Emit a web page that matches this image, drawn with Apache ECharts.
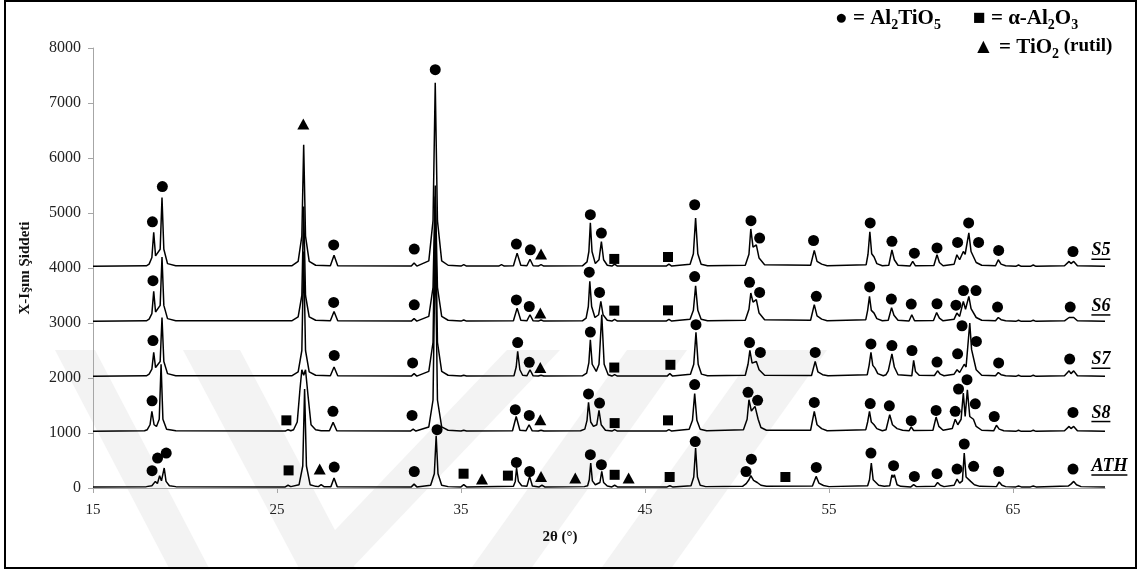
<!DOCTYPE html>
<html><head><meta charset="utf-8">
<script src="https://cdn.jsdelivr.net/npm/echarts@6/dist/echarts.min.js"></script>
<style>html,body{margin:0;padding:0;background:#fff}#c{width:1140px;height:570px}</style>
</head><body><div id="c"></div>
<script>
// ---------- data (2θ in degrees, intensity in counts) ----------
const xTicks = [15, 25, 35, 45, 55, 65];
const seriesNames = ['S5', 'S6', 'S7', 'S8', 'ATH'];
const seriesLabelX = 69.26;
const seriesLabelY = [4314, 3301, 2332, 1363, 393];

const S5 = [[15,4030],[17.9,4040],[18.05,4070],[18.2,4190],[18.3,4650],[18.4,4220],[18.5,4190],[18.65,4340],[18.75,5280],[18.85,4340],[19.05,4080],[19.5,4040],[25.8,4040],[26.15,4120],[26.35,4580],[26.45,6240],[26.55,4580],[26.75,4120],[27.1,4050],[27.9,4040],[28.1,4230],[28.3,4040],[32.3,4035],[32.45,4090],[32.6,4035],[33.25,4130],[33.48,4860],[33.6,7370],[33.72,4860],[33.95,4130],[34.3,4050],[35.0,4035],[35.15,4060],[35.3,4035],[37.05,4035],[37.2,4060],[37.35,4035],[37.85,4040],[38.05,4270],[38.25,4050],[38.58,4040],[38.75,4160],[38.92,4040],[39.2,4035],[39.35,4060],[39.5,4035],[41.6,4040],[41.85,4110],[41.95,4300],[42.03,4820],[42.12,4300],[42.3,4080],[42.5,4150],[42.63,4480],[42.75,4150],[42.95,4050],[43.2,4035],[43.35,4070],[43.5,4035],[46.15,4035],[46.3,4070],[46.45,4035],[47.45,4070],[47.63,4260],[47.75,4910],[47.87,4260],[48.05,4070],[48.4,4040],[50.45,4050],[50.65,4250],[50.75,4710],[50.87,4380],[51.05,4420],[51.2,4180],[51.5,4060],[54.0,4050],[54.2,4320],[54.35,4120],[54.6,4070],[54.9,4040],[57.02,4060],[57.12,4250],[57.22,4660],[57.32,4260],[57.45,4200],[57.6,4080],[57.9,4040],[58.25,4050],[58.42,4330],[58.55,4150],[58.75,4050],[59.4,4035],[59.55,4120],[59.7,4040],[60.7,4045],[60.87,4240],[61.0,4100],[61.2,4040],[61.8,4070],[61.95,4240],[62.1,4150],[62.3,4300],[62.4,4250],[62.6,4640],[62.72,4300],[62.82,4280],[63.0,4100],[63.3,4050],[64.05,4040],[64.2,4150],[64.35,4070],[64.6,4040],[65.15,4030],[65.3,4055],[65.45,4030],[65.95,4030],[66.1,4055],[66.25,4030],[67.8,4040],[68.05,4120],[68.15,4080],[68.3,4120],[68.5,4040],[70,4030]];

const S6 = [[15,3030],[17.9,3040],[18.05,3070],[18.2,3170],[18.3,3575],[18.4,3200],[18.5,3180],[18.65,3320],[18.75,4200],[18.85,3320],[19.05,3080],[19.5,3040],[25.8,3040],[26.15,3110],[26.35,3500],[26.45,5120],[26.55,3500],[26.75,3110],[27.1,3050],[27.9,3040],[28.1,3210],[28.3,3040],[32.3,3035],[32.45,3080],[32.6,3035],[33.25,3120],[33.48,3650],[33.6,5500],[33.72,3650],[33.95,3120],[34.3,3050],[35.0,3035],[35.15,3055],[35.3,3035],[37.85,3040],[38.05,3270],[38.25,3050],[38.58,3040],[38.75,3150],[38.92,3040],[39.2,3035],[39.35,3055],[39.5,3035],[41.6,3040],[41.8,3090],[41.92,3300],[42.0,3757],[42.1,3300],[42.28,3100],[42.48,3150],[42.6,3393],[42.72,3150],[42.95,3050],[43.2,3035],[43.35,3065],[43.5,3035],[46.15,3035],[46.3,3065],[46.45,3035],[47.45,3070],[47.63,3230],[47.75,3678],[47.87,3230],[48.05,3070],[48.4,3040],[50.45,3050],[50.65,3250],[50.75,3545],[50.87,3380],[51.05,3424],[51.2,3180],[51.5,3060],[54.0,3050],[54.2,3333],[54.35,3130],[54.6,3070],[54.9,3040],[57.0,3060],[57.1,3230],[57.2,3485],[57.3,3230],[57.45,3180],[57.6,3080],[57.9,3040],[58.22,3050],[58.4,3280],[58.53,3140],[58.75,3050],[59.35,3035],[59.5,3150],[59.65,3040],[60.68,3045],[60.85,3190],[61.0,3090],[61.2,3040],[61.8,3070],[61.95,3180],[62.1,3120],[62.3,3393],[62.42,3250],[62.6,3485],[62.72,3260],[62.82,3230],[63.0,3100],[63.3,3050],[64.05,3040],[64.2,3100],[64.35,3060],[64.6,3040],[65.15,3030],[65.3,3050],[65.45,3030],[65.95,3030],[66.1,3050],[66.25,3030],[67.8,3040],[68.05,3100],[68.15,3070],[68.3,3100],[68.5,3040],[70,3030]];

const S7 = [[15,2030],[17.9,2040],[18.05,2070],[18.2,2160],[18.3,2466],[18.4,2190],[18.5,2170],[18.65,2300],[18.75,3100],[18.85,2300],[19.05,2080],[19.5,2040],[25.8,2040],[26.15,2110],[26.35,2500],[26.45,4300],[26.55,2500],[26.75,2110],[27.1,2050],[27.9,2040],[28.1,2200],[28.3,2040],[32.3,2035],[32.45,2080],[32.6,2035],[33.25,2120],[33.48,2650],[33.6,5300],[33.72,2650],[33.95,2120],[34.3,2050],[35.0,2035],[35.15,2050],[35.3,2035],[37.88,2040],[38.0,2200],[38.08,2484],[38.2,2150],[38.35,2050],[38.58,2040],[38.75,2150],[38.92,2040],[39.2,2035],[39.35,2050],[39.5,2035],[41.6,2040],[41.83,2090],[41.95,2280],[42.03,2696],[42.13,2250],[42.35,2120],[42.5,2250],[42.65,3150],[42.78,2250],[43.0,2060],[43.2,2035],[43.35,2060],[43.5,2035],[46.2,2035],[46.35,2080],[46.5,2035],[47.47,2070],[47.65,2250],[47.77,2830],[47.89,2250],[48.07,2070],[48.4,2040],[50.45,2050],[50.6,2250],[50.7,2502],[50.82,2270],[51.05,2300],[51.2,2150],[51.5,2050],[54.05,2045],[54.25,2302],[54.4,2110],[54.65,2060],[54.95,2040],[57.08,2060],[57.18,2230],[57.28,2466],[57.38,2230],[57.5,2180],[57.65,2080],[57.95,2040],[58.1,2060],[58.22,2130],[58.3,2120],[58.42,2440],[58.55,2200],[58.75,2060],[59.5,2040],[59.6,2320],[59.7,2120],[59.9,2050],[60.73,2045],[60.9,2130],[61.05,2070],[61.25,2040],[61.8,2070],[61.96,2150],[62.1,2100],[62.35,2250],[62.45,2200],[62.65,3000],[62.75,2515],[62.83,2515],[63.0,2150],[63.3,2050],[64.05,2040],[64.2,2100],[64.35,2060],[64.6,2040],[65.15,2030],[65.3,2050],[65.45,2030],[65.95,2030],[66.1,2050],[66.25,2030],[67.8,2040],[68.05,2130],[68.15,2080],[68.3,2130],[68.5,2040],[70,2030]];

const S8 = [[15,1030],[17.8,1040],[17.95,1060],[18.1,1150],[18.2,1393],[18.32,1150],[18.45,1120],[18.6,1250],[18.7,2250],[18.8,1250],[19.0,1070],[19.5,1040],[25.45,1035],[25.6,1060],[25.75,1040],[25.9,1060],[26.1,1200],[26.25,1800],[26.35,2150],[26.45,2050],[26.55,2150],[26.68,1700],[26.85,1150],[27.1,1060],[27.4,1040],[27.85,1040],[28.05,1193],[28.25,1040],[32.25,1035],[32.4,1070],[32.55,1035],[33.25,1110],[33.48,1600],[33.6,4500],[33.72,1600],[33.95,1110],[34.3,1050],[35.0,1035],[35.15,1050],[35.3,1035],[37.8,1040],[38.0,1300],[38.2,1050],[38.53,1040],[38.7,1150],[38.87,1040],[39.2,1035],[39.35,1050],[39.5,1035],[41.5,1040],[41.73,1070],[41.85,1230],[41.93,1557],[42.05,1200],[42.2,1120],[42.38,1150],[42.5,1412],[42.62,1150],[42.85,1050],[43.2,1035],[43.35,1060],[43.5,1035],[46.15,1035],[46.3,1060],[46.45,1035],[47.4,1070],[47.58,1230],[47.7,1715],[47.82,1230],[48.0,1070],[48.35,1040],[50.35,1060],[50.55,1250],[50.65,1605],[50.78,1400],[50.98,1484],[51.15,1250],[51.3,1100],[51.6,1050],[54.0,1050],[54.2,1393],[54.35,1150],[54.6,1080],[54.9,1040],[57.0,1060],[57.1,1200],[57.2,1393],[57.3,1200],[57.45,1150],[57.6,1080],[57.9,1040],[58.1,1060],[58.3,1333],[58.45,1150],[58.7,1080],[59.0,1050],[59.35,1040],[59.47,1110],[59.6,1045],[60.65,1050],[60.82,1290],[60.97,1120],[61.2,1050],[61.7,1080],[61.86,1250],[62.0,1150],[62.18,1250],[62.3,1727],[62.4,1300],[62.52,1787],[62.65,1300],[62.85,1250],[63.0,1120],[63.3,1050],[63.95,1040],[64.1,1140],[64.25,1070],[64.5,1040],[65.15,1030],[65.3,1050],[65.45,1030],[65.95,1030],[66.1,1050],[66.25,1030],[67.8,1040],[68.05,1120],[68.15,1080],[68.3,1120],[68.5,1040],[70,1030]];

const ATH = [[15,20],[17.9,25],[18.2,40],[18.39,120],[18.5,80],[18.62,224],[18.72,130],[18.87,364],[18.97,120],[19.15,40],[19.5,25],[25.45,20],[25.6,50],[25.75,25],[26.2,60],[26.4,400],[26.5,1800],[26.6,400],[26.8,60],[27.1,30],[27.25,25],[27.4,60],[27.55,25],[27.93,25],[28.1,180],[28.27,25],[32.3,20],[32.45,70],[32.6,20],[33.35,50],[33.55,260],[33.65,950],[33.75,260],[33.95,50],[34.3,25],[35.0,20],[35.15,60],[35.3,20],[37.85,30],[37.95,120],[38.02,364],[38.12,120],[38.3,40],[38.58,30],[38.73,211],[38.88,35],[39.25,20],[39.4,50],[39.55,20],[41.7,25],[41.88,40],[41.97,150],[42.05,455],[42.14,130],[42.3,60],[42.55,100],[42.65,302],[42.75,100],[42.95,35],[43.2,20],[43.35,50],[43.5,20],[46.2,20],[46.35,40],[46.5,20],[47.5,40],[47.65,200],[47.75,727],[47.85,200],[48.0,50],[48.3,25],[50.3,30],[50.5,80],[50.65,150],[50.75,224],[50.9,140],[51.1,100],[51.3,50],[51.6,30],[54.1,35],[54.3,211],[54.45,90],[54.7,45],[55.0,25],[57.1,40],[57.2,150],[57.3,455],[57.4,150],[57.55,100],[57.7,50],[58.0,30],[58.3,40],[58.42,240],[58.48,190],[58.55,240],[58.7,60],[58.9,30],[59.45,20],[59.6,60],[59.75,25],[60.75,30],[60.9,100],[61.05,50],[61.25,25],[61.8,50],[61.96,160],[62.1,90],[62.25,130],[62.35,636],[62.45,200],[62.55,200],[62.7,120],[62.9,60],[63.2,30],[64.1,25],[64.25,110],[64.4,50],[64.6,25],[65.15,20],[65.3,35],[65.45,20],[65.95,20],[66.1,35],[66.25,20],[68.0,35],[68.15,70],[68.3,120],[68.45,60],[68.7,25],[70,20]];

// phase markers (2θ, intensity where the symbol sits)
const markAl2TiO5 = [
  [18.23,4840],[18.77,5480],[28.08,4420],[32.46,4345],[33.60,7605],[38.01,4435],[38.77,4330],[42.03,4970],[42.63,4635],[47.70,5150],[50.76,4860],[51.23,4545],[54.16,4500],[57.24,4820],[58.42,4485],[59.64,4270],[60.87,4365],[61.99,4465],[62.59,4820],[63.13,4465],[64.22,4320],[68.26,4300],
  [18.26,3770],[28.08,3375],[32.46,3330],[38.01,3420],[38.71,3300],[41.97,3925],[42.53,3555],[47.70,3845],[50.68,3740],[51.23,3555],[54.31,3485],[57.21,3655],[58.39,3435],[59.47,3345],[60.87,3350],[61.90,3325],[62.31,3590],[62.99,3590],[64.16,3290],[68.11,3290],
  [18.26,2680],[28.11,2410],[32.37,2275],[38.08,2645],[38.71,2285],[42.03,2835],[47.77,2970],[50.68,2645],[51.27,2465],[54.25,2465],[57.28,2620],[58.42,2590],[59.51,2500],[60.87,2290],[61.99,2440],[62.23,2950],[63.01,2665],[64.22,2275],[68.08,2345],
  [18.21,1585],[28.04,1395],[32.34,1320],[37.95,1425],[38.71,1320],[41.93,1710],[42.53,1545],[47.70,1880],[50.60,1740],[51.12,1595],[54.20,1555],[57.24,1535],[58.28,1495],[59.47,1225],[60.82,1410],[61.86,1395],[62.04,1800],[62.50,1970],[62.95,1530],[63.98,1300],[68.26,1375],
  [18.21,315],[18.51,545],[18.98,635],[28.11,380],[32.46,300],[33.70,1060],[38.01,465],[38.73,300],[42.03,605],[42.63,425],[47.73,845],[50.49,300],[50.78,525],[54.31,375],[57.28,635],[58.51,405],[59.64,210],[60.87,260],[61.96,345],[62.35,800],[62.86,395],[64.22,300],[68.26,345]
];
const markAl2O3 = [
  [43.33,4165],[46.25,4200],
  [43.33,3225],[46.25,3230],
  [43.33,2190],[46.38,2240],
  [25.51,1230],[43.35,1180],[46.25,1230],
  [25.63,320],[35.14,260],[37.55,225],[43.35,240],[46.34,200],[52.63,200]
];
const markTiO2 = [
  [26.43,6620],[39.35,4255],
  [39.31,3180],
  [39.31,2190],
  [39.31,1240],
  [27.32,345],[36.14,165],[39.35,210],[41.21,182],[44.11,182]
];

// ---------- chart ----------
const serif = '"Liberation Serif", "Times New Roman", serif';
const traces = [S5, S6, S7, S8, ATH];
const chart = echarts.init(document.getElementById('c'));

const lineSeries = traces.map((d, i) => ({
  name: seriesNames[i], type: 'line', data: d, showSymbol: false, symbol: 'none',
  lineStyle: { color: '#000', width: 1.5 }, z: 3, silent: true
}));
const mk = { color: '#000', opacity: 1 };
const markerSeries = [
  { type: 'scatter', data: markAl2TiO5, symbol: 'circle', symbolSize: 11, itemStyle: mk, z: 5 },
  { type: 'scatter', data: markAl2O3, symbol: 'rect', symbolSize: 10, itemStyle: mk, z: 5 },
  { type: 'scatter', data: markTiO2, symbol: 'triangle', symbolSize: [12, 11], itemStyle: mk, z: 5 }
];

chart.setOption({
  animation: false,
  backgroundColor: '#fff',
  grid: { left: 93, right: 35, top: 48, bottom: 82 },
  xAxis: {
    type: 'value', min: 15, max: 70,
    axisLine: { show: true, lineStyle: { color: '#a6a6a6' } },
    axisTick: { show: true, customValues: xTicks, length: 5, lineStyle: { color: '#a6a6a6' } },
    axisLabel: { customValues: xTicks, color: '#222', fontFamily: serif, fontSize: 15, margin: 15 },
    splitLine: { show: false }
  },
  yAxis: {
    type: 'value', min: 0, max: 8000, interval: 1000,
    name: 'X-Işını Şiddeti', nameLocation: 'middle', nameGap: 60,
    nameTextStyle: { fontFamily: serif, fontWeight: 'bold', fontSize: 15, color: '#111' },
    axisLine: { show: true, lineStyle: { color: '#a6a6a6' } },
    axisTick: { show: true, length: 5, lineStyle: { color: '#a6a6a6' } },
    axisLabel: { color: '#222', fontFamily: serif, fontSize: 16, margin: 12, formatter: v => String(v) },
    splitLine: { show: false }
  },
  series: lineSeries.concat(markerSeries)
});

// ---------- decorations: legend, labels, frame ----------
const richLegend = {
  t: { fontFamily: serif, fontWeight: 'bold', fontSize: 21, lineHeight: 24, color: '#000', verticalAlign: 'top' },
  s: { fontFamily: serif, fontWeight: 'bold', fontSize: 14, lineHeight: 14, color: '#000', padding: [10, 0, 0, 0], verticalAlign: 'top' },
  r: { fontFamily: serif, fontWeight: 'bold', fontSize: 19, lineHeight: 24, color: '#000', verticalAlign: 'top' }
};
const graphics = [];
// faint watermark stripes
const wm = '#f3f3f3';
[
  [[55,350],[95,350],[210,570],[170,570]],
  [[183,350],[240,350],[356,570],[300,570]],
  [[507,350],[560,350],[350,570],[297,570]],
  [[627,350],[687,350],[530,570],[470,570]],
  [[757,350],[827,350],[670,570],[600,570]]
].forEach(p => graphics.push({ type: 'polygon', shape: { points: p }, style: { fill: wm }, z: -10, silent: true }));

graphics.push({ type: 'text', x: 835, y: 8, z: 50, style: { text: '{t|● = Al}{s|2}{t|TiO}{s|5}', rich: richLegend } });
graphics.push({ type: 'text', x: 973, y: 8, z: 50, style: { text: '{t|■ = α-Al}{s|2}{t|O}{s|3}', rich: richLegend } });
graphics.push({ type: 'text', x: 973, y: 37, z: 50, style: { text: '{t|▲ = TiO}{s|2}{r| (rutil)}', rich: richLegend } });

graphics.push({ type: 'text', x: 560, y: 537, z: 50, style: { text: '2θ (°)', fontFamily: serif, fontWeight: 'bold', fontSize: 15, fill: '#111', align: 'center', verticalAlign: 'middle' } });

const cv = document.createElement('canvas').getContext('2d');
cv.font = 'italic bold 18px "Liberation Serif"';
seriesNames.forEach((n, i) => {
  const p = chart.convertToPixel({ xAxisIndex: 0, yAxisIndex: 0 }, [seriesLabelX, seriesLabelY[i]]);
  const w = cv.measureText(n).width;
  graphics.push({ type: 'text', x: p[0], y: p[1], z: 50, style: { text: n, fontFamily: serif, fontWeight: 'bold', fontStyle: 'italic', fontSize: 18, fill: '#000', align: 'left', verticalAlign: 'middle' } });
  graphics.push({ type: 'line', z: 50, shape: { x1: p[0], y1: p[1] + 8.5, x2: p[0] + w, y2: p[1] + 8.5 }, style: { stroke: '#000', lineWidth: 1.5 } });
});

graphics.push({ type: 'rect', z: 60, shape: { x: 5, y: 1, width: 1131, height: 567 }, style: { fill: 'none', stroke: '#000', lineWidth: 2 } });

chart.setOption({ graphic: { elements: graphics } });
</script>
</body></html>
